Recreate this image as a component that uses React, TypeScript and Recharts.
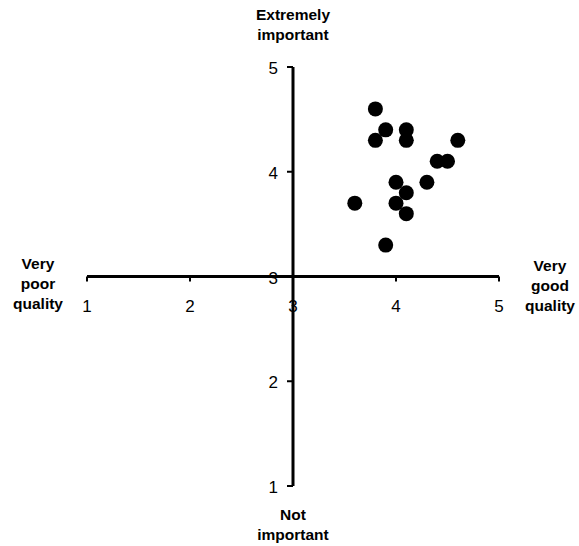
import { ScatterChart, Scatter, XAxis, YAxis, ReferenceLine } from 'recharts';

const quality = [3.8, 3.9, 4.1, 3.8, 4.1, 4.6, 4.4, 4.5, 4.0, 4.3, 4.1, 3.6, 4.0, 4.1, 3.9];
const importance = [4.6, 4.4, 4.4, 4.3, 4.3, 4.3, 4.1, 4.1, 3.9, 3.9, 3.8, 3.7, 3.7, 3.6, 3.3];
const axisTicks = [1, 2, 3, 4, 5];

const data = quality.map((q, i) => ({ quality: q, importance: importance[i] }));

const W = 579;
const H = 546;
const AX = 30; // reserved axis size
const margin = { top: 67, right: 80, bottom: 60 - AX, left: 87 - AX };
const plotLeft = margin.left + AX;
const plotBottom = H - margin.bottom - AX;
const midX = plotLeft + (W - plotLeft - margin.right) / 2;
const midY = margin.top + (plotBottom - margin.top) / 2;
const font = 'Liberation Sans, Arial, sans-serif';

// x ticks sit on the horizontal axis at y = 3
const XTick = (props: any) => {
    const { x, payload } = props;
    return (
        <g>
            <line x1={x} x2={x} y1={midY} y2={midY + 5} stroke="#000" strokeWidth={2} />
            <text x={x} y={midY + 35} textAnchor="middle" fontSize={17} fontFamily={font} fill="#000">
                {payload.value}
            </text>
        </g>
    );
};

// y ticks sit on the vertical axis at x = 3
const YTick = (props: any) => {
    const { y, payload } = props;
    return (
        <g>
            <line x1={midX} x2={midX - 6} y1={y} y2={y} stroke="#000" strokeWidth={2} />
            <text x={midX - 15} y={y + 7} textAnchor="end" fontSize={17} fontFamily={font} fill="#000">
                {payload.value}
            </text>
        </g>
    );
};

const Dot = (props: any) => <circle cx={props.cx} cy={props.cy} r={7.5} fill="#000" />;

const title: React.CSSProperties = {
    position: 'absolute',
    fontFamily: font,
    fontWeight: 'bold',
    fontSize: 15.5,
    lineHeight: '20px',
    textAlign: 'center',
    color: '#000',
};

export default function App() {
    return (
        <div style={{ position: 'absolute', left: 0, top: 0, width: W, height: H, background: '#fff' }}>
            <ScatterChart width={W} height={H} margin={margin}>
                <XAxis
                    type="number"
                    dataKey="quality"
                    domain={[1, 5]}
                    ticks={axisTicks}
                    height={AX}
                    axisLine={false}
                    tickLine={false}
                    tick={XTick}
                    interval={0}
                />
                <YAxis
                    type="number"
                    dataKey="importance"
                    domain={[1, 5]}
                    ticks={axisTicks}
                    width={AX}
                    axisLine={false}
                    tickLine={false}
                    tick={YTick}
                    interval={0}
                />
                <ReferenceLine y={3} stroke="#000" strokeWidth={3} />
                <ReferenceLine x={3} stroke="#000" strokeWidth={3} />
                <Scatter data={data} fill="#000" shape={Dot} isAnimationActive={false} />
            </ScatterChart>
            <div style={{ ...title, left: midX - 60, width: 120, top: 5 }}>Extremely<br />important</div>
            <div style={{ ...title, left: midX - 60, width: 120, top: 505 }}>Not<br />important</div>
            <div style={{ ...title, left: 0, width: 76, top: 254 }}>Very<br />poor<br />quality</div>
            <div style={{ ...title, left: 510, width: 80, top: 256 }}>Very<br />good<br />quality</div>
        </div>
    );
}
